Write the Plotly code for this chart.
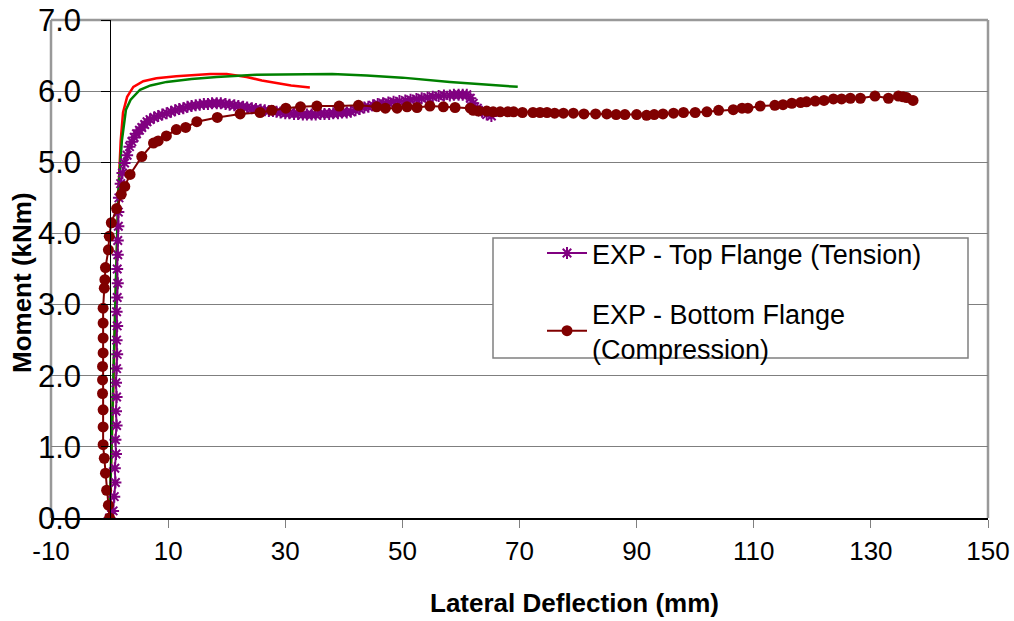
import plotly.graph_objects as go

# ---------------- data ----------------
x_ticks = [-10, 10, 30, 50, 70, 90, 110, 130, 150]
x_tick_text = ["-10", "10", "30", "50", "70", "90", "110", "130", "150"]
y_ticks = [0, 1, 2, 3, 4, 5, 6, 7]
y_tick_text = ["0.0", "1.0", "2.0", "3.0", "4.0", "5.0", "6.0", "7.0"]

top_name = "EXP - Top Flange (Tension)"
top_x = [0, 0.6, 0.8, 1.0, 0.9, 1.1, 1.0, 1.2, 1.1, 1.2, 1.1, 1.2, 1.3, 1.2, 1.3, 1.2,
         1.3, 1.4, 1.3, 1.4, 1.4, 1.5, 1.5, 1.6, 1.9, 2.2, 2.56, 3.0, 3.4, 3.8, 4.2, 4.6,
         5.1, 5.5, 6.0, 6.4, 6.9, 7.6, 8.3, 9.0, 9.75, 10.5, 11.2, 11.9, 12.6, 13.3, 14.0,
         14.7, 15.4, 16.1, 16.8, 17.5, 18.3, 19.0, 19.8, 20.5, 21.3, 22.0, 22.8, 23.5, 24.3,
         25.0, 25.8, 26.5, 27.2, 27.9, 28.5, 29.2, 30.0, 30.7, 31.5, 32.2, 33.0, 33.7, 34.5,
         35.2, 36.0, 36.7, 37.5, 38.2, 39.0, 39.7, 40.5, 41.2, 42.0, 42.7, 43.5, 44.2, 45.0,
         45.8, 46.7, 47.6, 48.5, 49.5, 50.5, 51.4, 52.4, 53.3, 54.3, 55.2, 56.2, 57.1, 58.1,
         58.8, 59.6, 60.3, 61.0, 61.6, 62.1, 62.8, 63.6, 64.4, 65.2]
top_y = [0, 0.1, 0.3, 0.5, 0.7, 0.9, 1.1, 1.3, 1.5, 1.7, 1.9, 2.1, 2.3, 2.5, 2.7, 2.9,
         3.1, 3.3, 3.5, 3.7, 3.9, 4.1, 4.3, 4.5, 4.7, 4.85, 4.99, 5.1, 5.22, 5.29, 5.35, 5.40,
         5.45, 5.49, 5.53, 5.57, 5.60, 5.63, 5.65, 5.67, 5.69, 5.71, 5.73, 5.75, 5.76, 5.78, 5.79,
         5.80, 5.81, 5.82, 5.82, 5.83, 5.83, 5.83, 5.82, 5.81, 5.80, 5.79, 5.78, 5.77, 5.76,
         5.75, 5.74, 5.73, 5.72, 5.72, 5.71, 5.70, 5.69, 5.69, 5.68, 5.68, 5.67, 5.67, 5.67,
         5.67, 5.68, 5.68, 5.68, 5.69, 5.69, 5.70, 5.70, 5.71, 5.73, 5.75, 5.77, 5.78, 5.80,
         5.82, 5.83, 5.84, 5.85, 5.86, 5.87, 5.88, 5.89, 5.90, 5.91, 5.92, 5.93, 5.94, 5.94,
         5.95, 5.95, 5.95, 5.95, 5.90, 5.83, 5.76, 5.71, 5.67, 5.65]

bot_name = "EXP - Bottom Flange<br>(Compression)"
bot_x = [0, -0.2, -0.5, -0.7, -0.9, -1.1, -1.1, -1.1, -1.2, -1.2, -1.2, -1.1, -1.1, -1.1,
         -1.1, -0.9, -0.8, -0.7, -0.2, -0.05, 0.3, 1.2, 2.0, 2.6, 3.5, 5.5, 7.5, 8.3, 9.7,
         11.4, 13.0, 14.9, 18.4, 22.3, 25.7, 27.7, 30.1, 32.6, 35.4, 39.2, 42.5, 45.6, 47.1,
         49.1, 50.8, 52.5, 54.7, 57.0, 59.0, 61.6, 62.1, 63.0, 64.4, 65.5, 66.7, 68.0, 69.0,
         70.5, 72.3, 73.5, 74.7, 76.0, 77.5, 79.2, 81.0, 83.0, 84.9, 86.5, 88.0, 90.0, 91.7,
         93.0, 94.5, 96.3, 98.0, 100.0, 102.0, 104.0, 106.5, 108.0, 109.0, 111.1, 113.6, 115.0,
         116.5, 118.0, 119.0, 120.5, 122.0, 123.6, 125.0, 126.5, 128.2, 130.7, 133.0, 134.7,
         135.5, 136.1, 137.2]
bot_y = [0, 0.18, 0.39, 0.63, 0.84, 1.03, 1.28, 1.52, 1.75, 1.94, 2.13, 2.32, 2.53, 2.74,
         2.95, 3.23, 3.35, 3.52, 3.77, 3.96, 4.15, 4.35, 4.55, 4.66, 4.83, 5.08, 5.27, 5.30,
         5.37, 5.46, 5.49, 5.57, 5.63, 5.68, 5.70, 5.73, 5.76, 5.78, 5.79, 5.79, 5.80, 5.78,
         5.76, 5.76, 5.78, 5.77, 5.79, 5.78, 5.77, 5.76, 5.73, 5.72, 5.72, 5.71, 5.71, 5.71, 5.71,
         5.70, 5.70, 5.70, 5.70, 5.69, 5.69, 5.69, 5.68, 5.68, 5.68, 5.67, 5.67, 5.67, 5.66,
         5.67, 5.68, 5.69, 5.70, 5.70, 5.71, 5.73, 5.74, 5.76, 5.76, 5.79, 5.80, 5.81,
         5.83, 5.84, 5.85, 5.86, 5.87, 5.89, 5.89, 5.90, 5.90, 5.93, 5.90, 5.93,
         5.92, 5.91, 5.87]

red_x = [0, 0.4, 0.7, 1.0, 1.3, 1.6, 1.9, 2.3, 3.0, 4.06, 5.76, 8.0, 11.4, 14.5, 17.2,
         20.0, 23.4, 26.0, 28.5, 31.0, 34.2]
red_y = [0, 1.0, 2.0, 3.0, 4.0, 4.75, 5.3, 5.7, 5.92, 6.06, 6.14, 6.18, 6.21, 6.23, 6.24,
         6.24, 6.20, 6.15, 6.11, 6.08, 6.05]

green_x = [0, 0.3, 0.6, 0.9, 1.2, 1.5, 2.1, 2.8, 3.6, 5.2, 7.0, 9.75, 14.0, 18.3, 25.0,
           32.0, 38.0, 43.9, 50.0, 58.1, 64.0, 69.7]
green_y = [0, 1.0, 2.0, 3.0, 4.0, 4.6, 5.3, 5.74, 5.88, 6.02, 6.08, 6.13, 6.17, 6.20, 6.23,
           6.24, 6.24, 6.22, 6.19, 6.13, 6.09, 6.06]

# ---------------- styling ----------------
FONT = "Arial, Liberation Sans, sans-serif"
PURPLE = "#800080"
MAROON = "#800000"

fig = go.Figure()

fig.add_trace(go.Scatter(x=red_x, y=red_y, mode="lines", line=dict(color="#FF0000", width=2.5),
                         showlegend=False, hoverinfo="skip"))
fig.add_trace(go.Scatter(x=green_x, y=green_y, mode="lines", line=dict(color="#008000", width=2.5),
                         showlegend=False, hoverinfo="skip"))
fig.add_trace(go.Scatter(x=top_x, y=top_y, mode="lines+markers", name=top_name,
                         legendgroup="a",
                         line=dict(color=PURPLE, width=2),
                         marker=dict(symbol="asterisk-open", size=10, color=PURPLE,
                                     line=dict(color=PURPLE, width=2))))
fig.add_trace(go.Scatter(x=bot_x, y=bot_y, mode="lines+markers", name=bot_name,
                         legendgroup="b",
                         line=dict(color=MAROON, width=2),
                         marker=dict(symbol="circle", size=11, color=MAROON)))
# helper trace for the y axis drawn at x = 0
fig.add_trace(go.Scatter(x=[None], y=[None], yaxis="y2", showlegend=False, hoverinfo="skip"))

L, R, T, B = 51, 26, 20, 103
W, H = 1014, 621
pw, ph = W - L - R, H - T - B

def px_x(p):
    return (p - L) / pw

def px_y(p):
    return (H - B - p) / ph

fig.update_layout(
    width=W, height=H,
    margin=dict(l=L, r=R, t=T, b=B, autoexpand=False),
    paper_bgcolor="white", plot_bgcolor="white",
    font=dict(family=FONT, color="black"),
    xaxis=dict(range=[-10, 150], tickvals=x_ticks, ticktext=x_tick_text, ticks="outside",
               ticklen=8, automargin=False,
               tickcolor="#808080", tickwidth=1, showgrid=False, zeroline=False,
               showline=True, linecolor="black", linewidth=1.5,
               tickfont=dict(size=26, family=FONT), ticklabelstandoff=1),
    yaxis=dict(range=[0, 7], tickvals=y_ticks, ticktext=y_tick_text, ticks="",
               automargin=False,
               showgrid=True, gridcolor="#7f7f7f", gridwidth=1, zeroline=False,
               showline=False, tickfont=dict(size=31, family=FONT),
               ticklabelstandoff=-31),
    yaxis2=dict(range=[0, 7], tickvals=y_ticks, overlaying="y", anchor="free",
                automargin=False,
                position=(0 - (-10)) / 160, side="left", showticklabels=False,
                ticks="outside", ticklen=9, tickcolor="black", showgrid=False,
                zeroline=False, showline=True, linecolor="black", linewidth=1),
    legend=dict(x=px_x(542), y=px_y(229), xanchor="left", yanchor="top",
                bgcolor="rgba(0,0,0,0)", borderwidth=0, tracegroupgap=22,
                font=dict(size=27, family=FONT), itemwidth=40),
    showlegend=True,
)

border = dict(color="#999999", width=2.5)
fig.add_shape(type="line", xref="paper", yref="paper", x0=0, x1=0, y0=0, y1=1, line=border, layer="between")
fig.add_shape(type="line", xref="paper", yref="paper", x0=0, x1=1, y0=1, y1=1, line=border, layer="between")
fig.add_shape(type="line", xref="paper", yref="paper", x0=1, x1=1, y0=0, y1=1, line=border, layer="between")
# legend frame
fig.add_shape(type="rect", xref="paper", yref="paper", x0=px_x(493), x1=px_x(968),
              y0=px_y(358), y1=px_y(238), line=dict(color="#808080", width=1.5),
              fillcolor="white", layer="above")

fig.add_annotation(text="<b>Lateral Deflection (mm)</b>", xref="paper", yref="paper",
                   x=px_x(574), y=px_y(603), showarrow=False, xanchor="center", yanchor="middle",
                   font=dict(size=26, family=FONT))
fig.add_annotation(text="<b>Moment (kNm)</b>", xref="paper", yref="paper",
                   x=px_x(22), y=px_y(283), showarrow=False, xanchor="center", yanchor="middle",
                   textangle=-90, font=dict(size=26, family=FONT))

fig.write_html("out.html", post_script="document.body.style.margin='0';",
               config={"displayModeBar": False})
